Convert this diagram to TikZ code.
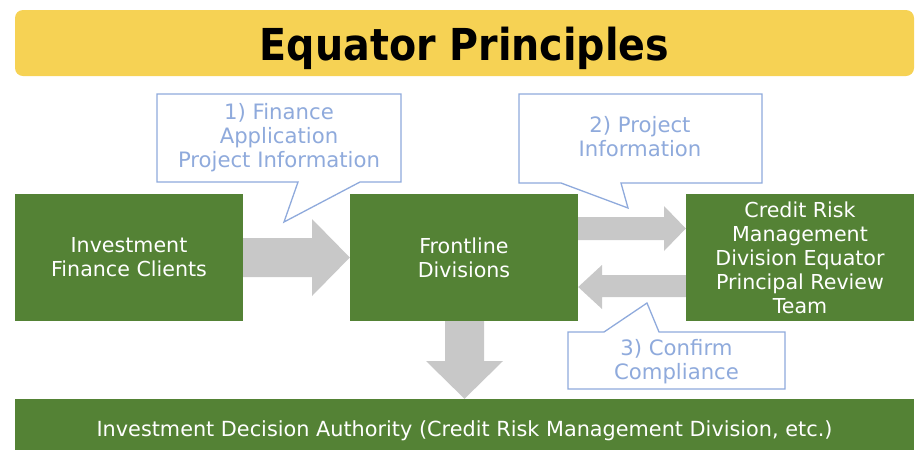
\documentclass[tikz,border=0pt]{standalone}
\usepackage{fontspec}
\setmainfont{DejaVu Sans}
\newfontfamily\titlefont{DejaVu Sans Condensed}
\begin{document}
\begin{tikzpicture}[x=1pt,y=-1pt,
  greenbox/.style={fill=eqgreen,text=white,inner sep=0pt,align=center,
    font=\fontsize{20.6}{24}\selectfont},
  blockarrow/.style={fill=arrowgray,draw=none},
  callout/.style={draw=callblue,line width=1.3pt,fill=white,line join=miter},
  calltext/.style={text=callblue,align=center,font=\fontsize{21.2}{24}\selectfont,inner sep=0pt}
]
\definecolor{eqgreen}{HTML}{548235}
\definecolor{arrowgray}{HTML}{C8C8C8}
\definecolor{callblue}{HTML}{8FAADC}
\definecolor{titleyellow}{HTML}{F6D254}
\useasboundingbox (0,0) rectangle (919,451);

% title
\node[fill=titleyellow,rounded corners=8pt,minimum width=899pt,minimum height=66pt,inner sep=0pt,
  text height=35pt,text depth=0pt,
  font=\titlefont\bfseries\fontsize{44}{48}\selectfont] (title) at (464.5,43) {Equator Principles};

% boxes
\node[greenbox,minimum width=228pt,minimum height=127pt] (clients) at (129,257.5) {Investment\\Finance Clients};
\node[greenbox,minimum width=228pt,minimum height=127pt] (front) at (464,257.5) {Frontline\\Divisions};
\node[greenbox,minimum width=228pt,minimum height=127pt] (credit) at (800,257.5) {Credit Risk\\Management\\Division Equator\\Principal Review\\Team};
\node[greenbox,minimum width=899pt,minimum height=51pt,font=\fontsize{20.8}{24}\selectfont,
  text height=23pt,text depth=0pt] (auth) at (464.5,424.5) {Investment Decision Authority (Credit Risk Management Division, etc.)};

% block arrows
\fill[blockarrow] (clients.east |- 0,238) -- (312,238) -- (312,219) -- (front.west |- 0,257.5)
  -- (312,296) -- (312,277) -- (clients.east |- 0,277) -- cycle;
\fill[blockarrow] (front.east |- 0,217) -- (664,217) -- (664,206) -- (credit.west |- 0,228.5)
  -- (664,251) -- (664,240) -- (front.east |- 0,240) -- cycle;
\fill[blockarrow] (credit.west |- 0,275) -- (602,275) -- (602,265) -- (front.east |- 0,287)
  -- (602,309) -- (602,297) -- (credit.west |- 0,297) -- cycle;
\fill[blockarrow] (445,0 |- front.south) -- (445,361) -- (426,361) -- (464.5,0 |- auth.north)
  -- (503,361) -- (484,361) -- (484,0 |- front.south) -- cycle;

% callouts
\draw[callout] (157,94) -- (401,94) -- (401,182) -- (360,182) -- (284,222) -- (298,182) -- (157,182) -- cycle;
\node[calltext] (c1) at (279,138) {1) Finance\\Application\\Project Information};

\draw[callout] (519,94) -- (762,94) -- (762,183) -- (621,183) -- (628,208) -- (561,183) -- (519,183) -- cycle;
\node[calltext] (c2) at (640,137) {2) Project\\Information};

\draw[callout] (568,332) -- (604,332) -- (647,303) -- (659,332) -- (785,332) -- (785,389) -- (568,389) -- cycle;
\node[calltext] (c3) at (676.5,361.5) {3) Confirm\\Compliance};
\end{tikzpicture}
\end{document}
